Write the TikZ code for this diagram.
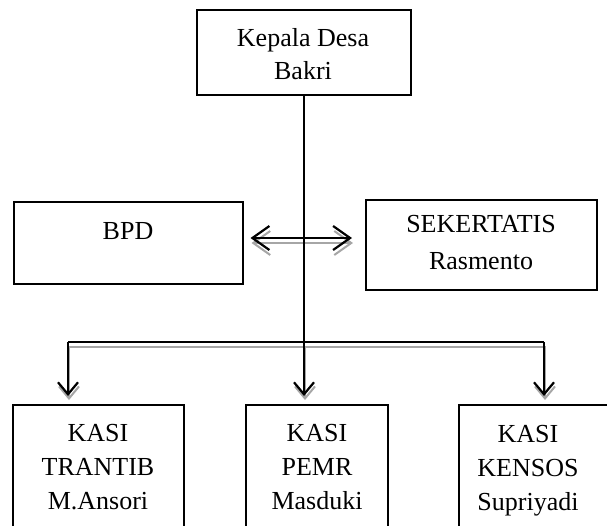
\documentclass[tikz,border=0pt]{standalone}
\usepackage{fontspec}
\setmainfont{Liberation Serif}
\usetikzlibrary{arrows.meta}
\begin{document}
\begin{tikzpicture}[x=1pt,y=-1pt,
  box/.style={draw,line width=2pt,inner sep=0pt},
  lbl/.style={font=\fontsize{26}{34}\selectfont,align=center,inner sep=0pt},
  conn/.style={line width=2.2pt},
  darr/.style={conn,{Straight Barb[length=17pt,width=24pt,line width=2.2pt]}-{Straight Barb[length=17pt,width=24pt,line width=2.2pt]}},
  arr/.style={conn,-{Straight Barb[length=12pt,width=20pt,line width=2.2pt]}},
  shadowc/.style={draw=black!35,line width=2pt}]
\clip (0,0) rectangle (607,525);
\useasboundingbox (0,0) rectangle (607,525);
% boxes
\node[box,minimum width=214pt,minimum height=85pt] (top) at (304,52.5) {};
\node[box,minimum width=229pt,minimum height=82pt] (bpd) at (128,243) {};
\node[box,minimum width=231pt,minimum height=90pt] (sek) at (481.5,245) {};
\node[box,minimum width=171pt,minimum height=130pt] (k1) at (98.5,470) {};
\node[box,minimum width=142pt,minimum height=130pt] (k2) at (317,470) {};
\node[box,minimum width=181pt,minimum height=130pt] (k3) at (549.5,470) {};
% texts
\node[lbl] (t0) at (303,54.6) {Kepala Desa\\[-1pt]Bakri};
\node[lbl] (t1) at (128,231.5) {BPD};
\node[lbl] (t2) at (481,243) {SEKERTATIS\\[3pt]Rasmento};
\node[lbl] (t3) at (98,467.5) {KASI\\TRANTIB\\M.Ansori};
\node[lbl] (t4) at (317,467.5) {KASI\\PEMR\\Masduki};
\node[lbl] (t5) at (528,470.3) {KASI\\KENSOS\\Supriyadi};
% junctions
\coordinate (j) at (top.south |- 0,342);
\coordinate (jl) at (68,342);
\coordinate (jr) at (544,342);
% shadows
\draw[shadowc] ([shift={(2pt,-5pt)}]jl) -- ([shift={(0pt,-5pt)}]jr);
\draw[shadowc,shorten <=7pt,shorten >=13pt,{Straight Barb[length=17pt,width=24pt,line width=2pt]}-{Straight Barb[length=17pt,width=24pt,line width=2pt]}]
  ([xshift=1pt]bpd.east) -- ([xshift=1pt]bpd.east -| sek.west);
\foreach \p/\k in {jl/k1,j/k2,jr/k3}{
  \draw[shadowc,shorten >=8pt,-{Straight Barb[length=12pt,width=20pt,line width=2pt]}]
    ([shift={(1pt,-4pt)}]\p) -- ([shift={(1pt,-4pt)}]\p |- \k.north);
}
% connectors
\draw[conn] (top.south) -- (j);
\draw[conn] (jl) -- (jr);
\draw[arr,shorten >=8pt] (j) -- (j |- k2.north);
\draw[arr,shorten >=8pt] (jl) -- (jl |- k1.north);
\draw[arr,shorten >=8pt] (jr) -- (jr |- k3.north);
\draw[darr,shorten <=7pt,shorten >=13pt] ([yshift=5pt]bpd.east) -- ([yshift=5pt]bpd.east -| sek.west);
\end{tikzpicture}
\end{document}
